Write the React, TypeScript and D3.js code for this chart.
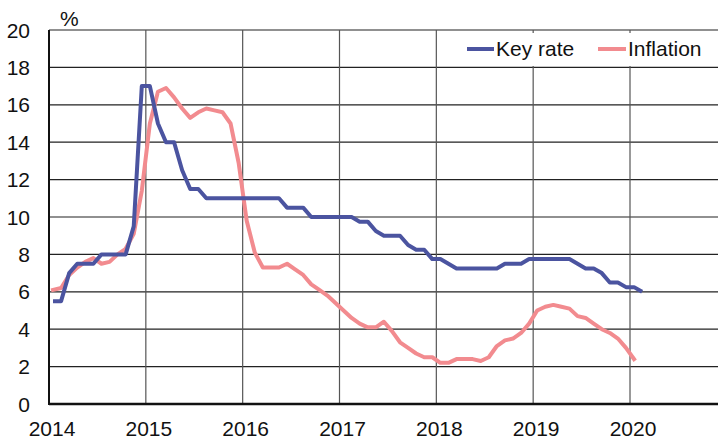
import React from "react";
import * as d3 from "d3";

// monthly values, Jan 2014 onward (plotted mid-month)
const keyRate = [
  5.5, 5.5, 7, 7.5, 7.5, 7.5, 8, 8, 8, 8, 9.5, 17,
  17, 15, 14, 14, 12.5, 11.5, 11.5, 11, 11, 11, 11, 11,
  11, 11, 11, 11, 11, 10.5, 10.5, 10.5, 10, 10, 10, 10,
  10, 10, 9.75, 9.75, 9.25, 9, 9, 9, 8.5, 8.25, 8.25, 7.75,
  7.75, 7.5, 7.25, 7.25, 7.25, 7.25, 7.25, 7.25, 7.5, 7.5, 7.5, 7.75,
  7.75, 7.75, 7.75, 7.75, 7.75, 7.5, 7.25, 7.25, 7, 6.5, 6.5, 6.25,
  6.25, 6
];
const inflation = [
  6.1, 6.2, 6.9, 7.3, 7.6, 7.8, 7.5, 7.6, 8.0, 8.3, 9.1, 11.4,
  15.0, 16.7, 16.9, 16.4, 15.8, 15.3, 15.6, 15.8, 15.7, 15.6, 15.0, 12.9,
  9.8, 8.1, 7.3, 7.3, 7.3, 7.5, 7.2, 6.9, 6.4, 6.1, 5.8, 5.4,
  5.0, 4.6, 4.3, 4.1, 4.1, 4.4, 3.9, 3.3, 3.0, 2.7, 2.5, 2.5,
  2.2, 2.2, 2.4, 2.4, 2.4, 2.3, 2.5, 3.1, 3.4, 3.5, 3.8, 4.3,
  5.0, 5.2, 5.3, 5.2, 5.1, 4.7, 4.6, 4.3, 4.0, 3.8, 3.5, 3.0,
  2.4
];
const startYear = 2014;
const years = [2014, 2015, 2016, 2017, 2018, 2019, 2020];
const yTicks = [0, 2, 4, 6, 8, 10, 12, 14, 16, 18, 20];

const W = 718;
const H = 439;
const left = 49;
const top = 30;
const bottom = 404;
const font = "'Liberation Sans', Arial, sans-serif";

export default function App() {
  const x = d3.scaleLinear().domain([2014, 2020]).range([left, 630]);
  const y = d3.scaleLinear().domain([0, 20]).range([bottom, top]);

  const line = d3
    .line<number>()
    .x((_, i) => x(startYear + (i + 0.5) / 12))
    .y((d) => y(d));

  return (
    <svg
      width={W}
      height={H}
      style={{ position: "absolute", left: 0, top: 0, background: "#fff" }}
      fontFamily={font}
    >
      {yTicks.map((t) => (
        <line key={"h" + t} x1={left} x2={W} y1={y(t)} y2={y(t)} stroke="#222" strokeWidth={1.2} />
      ))}
      {years.slice(1).map((yr) => (
        <line key={"v" + yr} x1={x(yr)} x2={x(yr)} y1={top} y2={bottom} stroke="#555" strokeWidth={1.2} />
      ))}

      {/* legend box */}
      <rect x={460} y={33} width={W - 460} height={33} fill="#fff" />
      <line x1={467} x2={494} y1={49} y2={49} stroke="#4b54a0" strokeWidth={4} />
      <text x={496} y={56} fontSize={21} fill="#111">Key rate</text>
      <line x1={598} x2={626} y1={49} y2={49} stroke="#f28b8f" strokeWidth={4} />
      <text x={628} y={56} fontSize={21} fill="#111">Inflation</text>

      <path d={line(inflation) ?? ""} fill="none" stroke="#f28b8f" strokeWidth={4} strokeLinejoin="round" strokeLinecap="square" />
      <path d={line(keyRate) ?? ""} fill="none" stroke="#4b54a0" strokeWidth={4} strokeLinejoin="round" />

      <line x1={left} x2={left} y1={top} y2={bottom + 1} stroke="#111" strokeWidth={2} />
      <line x1={left} x2={W} y1={bottom} y2={bottom} stroke="#111" strokeWidth={2.5} />

      {yTicks.map((t) => (
        <text key={"yl" + t} x={30} y={y(t)} dy="0.36em" textAnchor="end" fontSize={21} fill="#111">
          {t}
        </text>
      ))}
      {years.map((yr) => (
        <text key={"xl" + yr} x={x(yr) + 3} y={436} textAnchor="middle" fontSize={21} fill="#111">
          {yr}
        </text>
      ))}
      <text x={60} y={26} fontSize={21} fill="#111">%</text>
    </svg>
  );
}
